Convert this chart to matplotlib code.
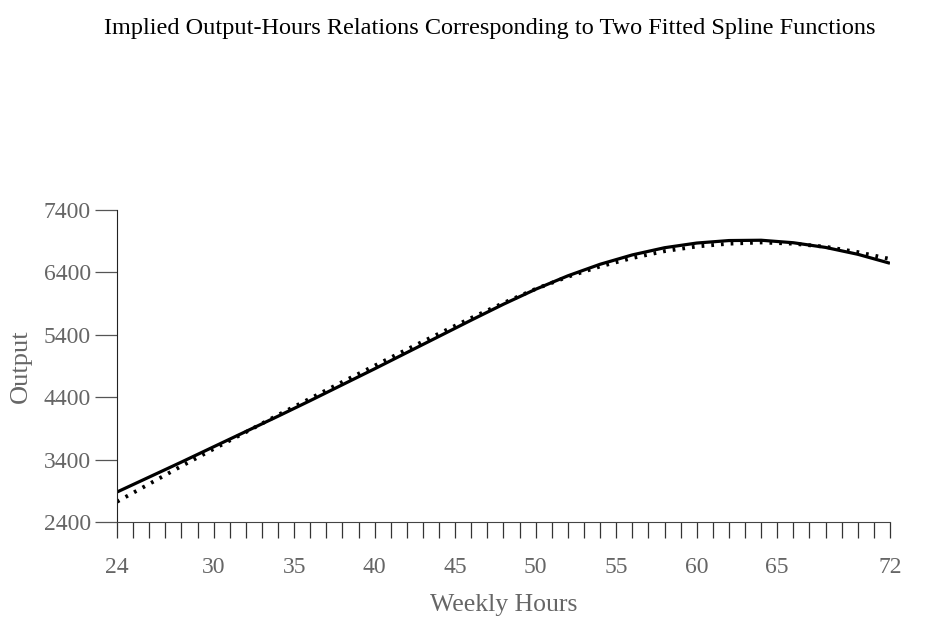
from matplotlib import pyplot as plt
import numpy as np

# weekly hours at which the two fitted curves are read
hours = [24, 26, 28, 30, 32, 34, 36, 38, 40, 42, 44, 46, 48,
         50, 52, 54, 56, 58, 60, 62, 64, 66, 68, 70, 72]

# first spline (solid)
output_solid = [2880, 3120, 3360, 3605, 3850, 4095, 4345, 4600, 4855, 5115, 5375, 5635, 5890,
                6130, 6345, 6530, 6680, 6795, 6870, 6910, 6915, 6875, 6800, 6690, 6546]

# second spline (dotted)
output_dotted = [2725, 3010, 3295, 3570, 3840, 4115, 4380, 4645, 4905, 5165, 5420, 5670, 5910,
                 6135, 6330, 6495, 6630, 6740, 6815, 6860, 6880, 6860, 6810, 6725, 6615]

xtick_labels = [24, 30, 35, 40, 45, 50, 55, 60, 65, 72]
ytick_labels = [2400, 3400, 4400, 5400, 6400, 7400]

plt.rcParams['font.family'] = ['Liberation Serif', 'DejaVu Serif']

fig = plt.figure(figsize=(9.37, 6.24), dpi=100)
ax = fig.add_axes([0.1249, 0.1635, 0.8249, 0.5])

ax.plot(hours, output_solid, color='black', linewidth=2.3, solid_capstyle='butt')
ax.plot(hours, output_dotted, color='black', linewidth=2.8, linestyle=(0, (0.7, 1.8)))

ax.set_xlim(24, 72)
ax.set_ylim(2400, 7400)

ax.spines['top'].set_visible(False)
ax.spines['right'].set_visible(False)
ax.spines['left'].set_color('#222222')
ax.spines['bottom'].set_color('#444444')

# x axis: a tick for every hour, labels only at a few
ax.set_xticks(xtick_labels)
ax.set_xticklabels([str(v) for v in xtick_labels])
ax.set_xticks(np.arange(24, 73, 1), minor=True)
ax.tick_params(axis='x', which='both', direction='out', length=11.5, width=0.9,
               color='#333333')
ax.tick_params(axis='x', which='major', pad=14, labelsize=17, labelcolor='#666666')

ax.set_yticks(ytick_labels)
ax.set_yticklabels([str(v) for v in ytick_labels])
ax.tick_params(axis='y', direction='out', length=16, width=0.9, color='#555555',
               pad=3, labelsize=17, labelcolor='#666666')

ax.set_xlabel('Weekly Hours', fontsize=18.5, color='#666666', labelpad=11)
ax.set_ylabel('Output', fontsize=19, color='#666666', labelpad=8)

fig.suptitle('Implied Output-Hours Relations Corresponding to Two Fitted Spline Functions',
             x=0.523, y=0.955, va='center', fontsize=17.5, color='black')

plt.savefig('out.png', dpi=100)
